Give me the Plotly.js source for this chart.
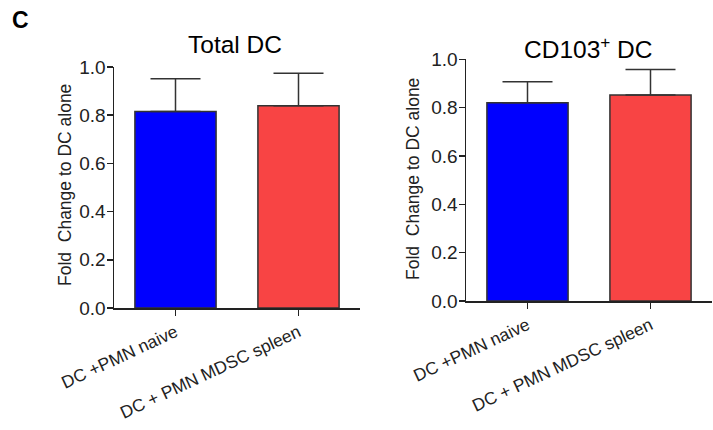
<!DOCTYPE html>
<html>
<head>
<meta charset="utf-8">
<script src="https://cdn.plot.ly/plotly-3.0.1.min.js"></script>
<style>html,body{margin:0;padding:0;background:#fff;}#chart{width:713px;height:430px;}</style>
</head>
<body>
<div id="chart"></div>
<script>
// Data
const categories = ["DC +PMN naive", "DC + PMN MDSC spleen"];
const totalDC_mean = [0.815, 0.839];
const totalDC_err = [0.136, 0.135];
const cd103DC_mean = [0.820, 0.852];
const cd103DC_err = [0.087, 0.106];
const barColors = ["#0000FF", "#F84444"];
const yTicks = [0, 0.2, 0.4, 0.6, 0.8, 1.0];
const panelTitles = ["Total DC", "CD103<sup>+</sup> DC"];
const yLabel = "Fold  Change to DC alone";
const panelLetter = "C";

const font = "Arial, 'Liberation Sans', sans-serif";
const ink = "#222";

function barTrace(means, errs, xa, ya) {
  return {
    type: "bar",
    x: categories,
    y: means,
    xaxis: xa, yaxis: ya,
    width: 0.66,
    marker: {color: barColors, line: {color: "#333", width: 1.5}},
    error_y: {type: "data", symmetric: false, array: errs,
              arrayminus: errs.map(() => 0), color: "#333", thickness: 1.5, width: 25},
    hoverinfo: "skip",
    showlegend: false
  };
}

const data = [
  barTrace(totalDC_mean, totalDC_err, "x", "y"),
  barTrace(cd103DC_mean, cd103DC_err, "x2", "y2")
];

const xCommon = {
  type: "category", range: [-0.5, 1.5], showline: true, linecolor: ink, linewidth: 1.5,
  ticks: "outside", ticklen: 6, tickwidth: 1.5, tickcolor: ink, tickangle: -25,
  tickfont: {family: font, size: 17.5, color: ink}, showgrid: false, zeroline: false, fixedrange: true
};
const yCommon = {
  range: [0, 1], tickvals: yTicks, tickformat: ".1f", showline: true, linecolor: ink, linewidth: 1.5,
  ticks: "outside", ticklen: 6, tickwidth: 1.5, tickcolor: ink, ticklabelstandoff: -3,
  tickfont: {family: font, size: 19, color: ink}, showgrid: false, zeroline: false, fixedrange: true
};

const layout = {
  width: 713, height: 430,
  margin: {l: 0, r: 0, t: 0, b: 0},
  paper_bgcolor: "#fff", plot_bgcolor: "#fff",
  font: {family: font, color: ink},
  xaxis: Object.assign({}, xCommon, {domain: [114/713, 360/713], anchor: "y"}),
  yaxis: Object.assign({}, yCommon, {domain: [1 - 308/430, 1 - 67/430], anchor: "x"}),
  xaxis2: Object.assign({}, xCommon, {domain: [466/713, 712/713], anchor: "y2"}),
  yaxis2: Object.assign({}, yCommon, {domain: [1 - 301/430, 1 - 59.3/430], anchor: "x2"}),
  annotations: [
    {text: "<b>" + panelLetter + "</b>", xref: "paper", yref: "paper", x: 20/713, y: 1 - 20/430,
     showarrow: false, font: {family: font, size: 23, color: "#000"}, xanchor: "center", yanchor: "middle"},
    {text: panelTitles[0], xref: "paper", yref: "paper", x: 235/713, y: 1 - 44/430,
     showarrow: false, font: {family: font, size: 24.5, color: "#000"}, xanchor: "center", yanchor: "middle"},
    {text: panelTitles[1], xref: "paper", yref: "paper", x: 588/713, y: 1 - 47/430,
     showarrow: false, font: {family: font, size: 24.5, color: "#000"}, xanchor: "center", yanchor: "middle"},
    {text: yLabel, xref: "paper", yref: "paper", x: 65/713, y: 1 - 185/430, textangle: -90,
     showarrow: false, font: {family: font, size: 17.5, color: ink}, xanchor: "center", yanchor: "middle"},
    {text: yLabel, xref: "paper", yref: "paper", x: 413/713, y: 1 - 179/430, textangle: -90,
     showarrow: false, font: {family: font, size: 17.5, color: ink}, xanchor: "center", yanchor: "middle"}
  ]
};

Plotly.newPlot("chart", data, layout, {displayModeBar: false, staticPlot: true});
</script>
</body>
</html>
